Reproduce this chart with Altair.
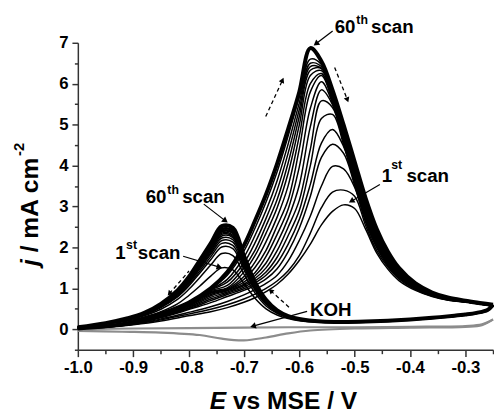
import math
import altair as alt
import pandas as pd

# ---------------- data ----------------
E_fwd = [-1.0, -0.95, -0.9, -0.85, -0.8, -0.76, -0.73, -0.70, -0.68, -0.66, -0.64, -0.62, -0.60,
         -0.58, -0.56, -0.54, -0.52, -0.50, -0.48, -0.46, -0.44, -0.42, -0.39, -0.36, -0.33, -0.30, -0.27, -0.25]
E_rev = [-0.25, -0.26, -0.28, -0.30, -0.32, -0.36, -0.40, -0.44, -0.48, -0.52, -0.56, -0.60, -0.62,
         -0.64, -0.66, -0.68, -0.70, -0.72, -0.74, -0.76, -0.78, -0.80, -0.82, -0.85, -0.88, -0.91, -0.95, -1.0]

fwd_01 = [0.02, 0.05, 0.11, 0.20, 0.33, 0.43, 0.53, 0.66, 0.77, 0.92, 1.10, 1.35, 1.68, 2.08, 2.55, 2.88, 3.04, 2.95, 2.44, 1.86, 1.47, 1.19, 0.95, 0.80, 0.71, 0.66, 0.60, 0.56]
fwd_02 = [0.02, 0.05, 0.12, 0.23, 0.37, 0.49, 0.60, 0.74, 0.86, 1.00, 1.18, 1.43, 1.80, 2.35, 2.97, 3.35, 3.40, 3.25, 2.53, 1.92, 1.52, 1.23, 0.97, 0.81, 0.71, 0.67, 0.61, 0.57]
fwd_03 = [0.02, 0.05, 0.12, 0.25, 0.41, 0.55, 0.68, 0.84, 0.97, 1.12, 1.32, 1.67, 2.17, 2.77, 3.50, 3.98, 3.92, 3.47, 2.61, 1.99, 1.56, 1.26, 0.99, 0.82, 0.72, 0.67, 0.61, 0.57]
fwd_04 = [0.02, 0.06, 0.13, 0.28, 0.48, 0.65, 0.80, 0.95, 1.07, 1.23, 1.48, 1.90, 2.47, 3.25, 4.20, 4.52, 4.30, 3.52, 2.65, 2.02, 1.59, 1.28, 1.00, 0.83, 0.72, 0.67, 0.61, 0.57]
fwd_05 = [0.02, 0.06, 0.14, 0.30, 0.50, 0.70, 0.85, 0.99, 1.13, 1.32, 1.62, 2.08, 2.68, 3.54, 4.55, 4.88, 4.47, 3.56, 2.70, 2.05, 1.61, 1.30, 1.01, 0.83, 0.73, 0.68, 0.62, 0.58]
fwd_06 = [0.02, 0.06, 0.14, 0.31, 0.52, 0.74, 0.88, 1.03, 1.18, 1.40, 1.76, 2.29, 2.90, 4.00, 5.15, 5.25, 4.52, 3.60, 2.74, 2.09, 1.64, 1.31, 1.02, 0.84, 0.73, 0.68, 0.62, 0.58]
fwd_07 = [0.02, 0.06, 0.15, 0.32, 0.54, 0.78, 0.91, 1.07, 1.24, 1.50, 1.92, 2.50, 3.15, 4.40, 5.58, 5.42, 4.56, 3.65, 2.78, 2.12, 1.66, 1.33, 1.03, 0.85, 0.74, 0.68, 0.62, 0.58]
fwd_08 = [0.02, 0.06, 0.15, 0.33, 0.56, 0.82, 0.94, 1.10, 1.31, 1.62, 2.11, 2.71, 3.52, 4.95, 5.85, 5.49, 4.60, 3.70, 2.82, 2.15, 1.68, 1.35, 1.03, 0.85, 0.74, 0.68, 0.62, 0.58]
fwd_09 = [0.02, 0.06, 0.16, 0.34, 0.58, 0.85, 0.96, 1.15, 1.38, 1.78, 2.32, 2.94, 3.96, 5.40, 6.05, 5.53, 4.65, 3.74, 2.86, 2.19, 1.71, 1.36, 1.04, 0.86, 0.74, 0.68, 0.62, 0.58]
fwd_10 = [0.02, 0.07, 0.16, 0.35, 0.59, 0.88, 0.97, 1.22, 1.51, 1.93, 2.53, 3.17, 4.40, 5.80, 6.20, 5.57, 4.69, 3.79, 2.91, 2.22, 1.73, 1.38, 1.05, 0.86, 0.75, 0.69, 0.63, 0.59]
fwd_11 = [0.02, 0.07, 0.17, 0.35, 0.60, 0.90, 0.99, 1.29, 1.64, 2.14, 2.74, 3.51, 4.72, 6.00, 6.25, 5.61, 4.74, 3.83, 2.95, 2.25, 1.76, 1.40, 1.06, 0.87, 0.75, 0.69, 0.63, 0.59]
fwd_12 = [0.02, 0.07, 0.17, 0.36, 0.61, 0.92, 1.01, 1.40, 1.80, 2.35, 2.97, 3.82, 4.99, 6.20, 6.32, 5.65, 4.78, 3.88, 2.99, 2.29, 1.78, 1.42, 1.07, 0.87, 0.75, 0.69, 0.63, 0.59]
fwd_13 = [0.02, 0.07, 0.17, 0.36, 0.62, 0.94, 1.07, 1.51, 1.93, 2.53, 3.17, 4.07, 5.20, 6.33, 6.37, 5.69, 4.82, 3.92, 3.03, 2.32, 1.80, 1.43, 1.08, 0.88, 0.76, 0.69, 0.63, 0.59]
fwd_14 = [0.02, 0.07, 0.17, 0.37, 0.63, 0.96, 1.15, 1.62, 2.11, 2.71, 3.40, 4.31, 5.37, 6.42, 6.38, 5.73, 4.87, 3.97, 3.07, 2.35, 1.83, 1.45, 1.09, 0.88, 0.76, 0.69, 0.63, 0.59]
fwd_15 = [0.02, 0.07, 0.18, 0.37, 0.64, 0.97, 1.22, 1.76, 2.29, 2.90, 3.63, 4.53, 5.53, 6.50, 6.42, 5.77, 4.91, 4.01, 3.12, 2.38, 1.85, 1.47, 1.10, 0.89, 0.76, 0.70, 0.64, 0.60]
fwd_16 = [0.02, 0.07, 0.18, 0.38, 0.64, 0.98, 1.32, 1.91, 2.47, 3.11, 3.85, 4.73, 5.68, 6.60, 6.47, 5.81, 4.96, 4.06, 3.16, 2.42, 1.88, 1.48, 1.11, 0.89, 0.77, 0.70, 0.64, 0.60]
fwd_60 = [0.02, 0.07, 0.18, 0.38, 0.65, 1.00, 1.40, 2.05, 2.65, 3.30, 4.05, 4.90, 5.80, 6.87, 6.55, 5.85, 5.00, 4.10, 3.20, 2.45, 1.90, 1.50, 1.12, 0.90, 0.77, 0.70, 0.64, 0.60]

rev_01 = [0.56, 0.45, 0.38, 0.34, 0.31, 0.26, 0.22, 0.19, 0.17, 0.16, 0.17, 0.21, 0.26, 0.35, 0.50, 0.76, 1.12, 1.45, 1.50, 1.30, 1.05, 0.82, 0.62, 0.43, 0.30, 0.20, 0.12, 0.05]
rev_02 = [0.57, 0.46, 0.39, 0.35, 0.32, 0.27, 0.23, 0.20, 0.18, 0.17, 0.18, 0.22, 0.28, 0.39, 0.57, 0.89, 1.35, 1.80, 1.85, 1.57, 1.26, 0.97, 0.73, 0.49, 0.33, 0.22, 0.13, 0.05]
rev_03 = [0.57, 0.46, 0.39, 0.35, 0.32, 0.27, 0.23, 0.20, 0.18, 0.17, 0.18, 0.23, 0.29, 0.41, 0.61, 0.96, 1.46, 1.97, 2.01, 1.70, 1.37, 1.05, 0.79, 0.53, 0.35, 0.24, 0.14, 0.05]
rev_04 = [0.57, 0.46, 0.39, 0.35, 0.32, 0.27, 0.23, 0.20, 0.18, 0.17, 0.18, 0.23, 0.30, 0.41, 0.63, 0.99, 1.52, 2.05, 2.10, 1.77, 1.42, 1.08, 0.81, 0.54, 0.36, 0.24, 0.14, 0.05]
rev_05 = [0.58, 0.46, 0.39, 0.35, 0.32, 0.27, 0.23, 0.20, 0.18, 0.17, 0.18, 0.24, 0.30, 0.42, 0.65, 1.02, 1.57, 2.13, 2.17, 1.83, 1.47, 1.12, 0.84, 0.56, 0.37, 0.25, 0.14, 0.05]
rev_06 = [0.58, 0.46, 0.39, 0.35, 0.32, 0.27, 0.23, 0.20, 0.18, 0.17, 0.18, 0.24, 0.30, 0.43, 0.66, 1.04, 1.61, 2.19, 2.23, 1.87, 1.50, 1.14, 0.86, 0.57, 0.37, 0.25, 0.14, 0.05]
rev_07 = [0.58, 0.47, 0.40, 0.36, 0.33, 0.28, 0.24, 0.21, 0.19, 0.18, 0.19, 0.24, 0.31, 0.43, 0.67, 1.06, 1.64, 2.24, 2.28, 1.91, 1.53, 1.16, 0.87, 0.58, 0.38, 0.25, 0.14, 0.05]
rev_08 = [0.58, 0.47, 0.40, 0.36, 0.33, 0.28, 0.24, 0.21, 0.19, 0.18, 0.19, 0.24, 0.31, 0.44, 0.68, 1.07, 1.66, 2.27, 2.32, 1.94, 1.55, 1.18, 0.88, 0.58, 0.38, 0.26, 0.14, 0.05]
rev_09 = [0.58, 0.47, 0.40, 0.36, 0.33, 0.28, 0.24, 0.21, 0.19, 0.18, 0.19, 0.24, 0.31, 0.44, 0.68, 1.08, 1.68, 2.30, 2.35, 1.96, 1.57, 1.19, 0.89, 0.59, 0.38, 0.26, 0.14, 0.05]
rev_10 = [0.59, 0.47, 0.40, 0.36, 0.33, 0.28, 0.24, 0.21, 0.19, 0.18, 0.19, 0.24, 0.31, 0.44, 0.69, 1.10, 1.70, 2.34, 2.38, 1.99, 1.59, 1.21, 0.90, 0.59, 0.39, 0.26, 0.15, 0.05]
rev_11 = [0.59, 0.47, 0.40, 0.36, 0.33, 0.28, 0.24, 0.21, 0.19, 0.18, 0.19, 0.24, 0.31, 0.45, 0.69, 1.10, 1.72, 2.35, 2.39, 2.00, 1.60, 1.21, 0.91, 0.60, 0.39, 0.26, 0.15, 0.05]
rev_12 = [0.59, 0.47, 0.40, 0.36, 0.33, 0.28, 0.24, 0.21, 0.19, 0.18, 0.19, 0.25, 0.31, 0.45, 0.70, 1.11, 1.73, 2.37, 2.41, 2.02, 1.61, 1.22, 0.92, 0.60, 0.39, 0.26, 0.15, 0.05]
rev_13 = [0.59, 0.47, 0.40, 0.36, 0.33, 0.28, 0.24, 0.21, 0.19, 0.18, 0.19, 0.25, 0.31, 0.45, 0.70, 1.12, 1.74, 2.39, 2.43, 2.03, 1.63, 1.23, 0.92, 0.60, 0.39, 0.26, 0.15, 0.05]
rev_14 = [0.59, 0.47, 0.40, 0.36, 0.33, 0.28, 0.24, 0.21, 0.19, 0.18, 0.19, 0.25, 0.32, 0.45, 0.70, 1.12, 1.75, 2.40, 2.44, 2.04, 1.63, 1.24, 0.93, 0.61, 0.39, 0.26, 0.15, 0.05]
rev_15 = [0.60, 0.47, 0.40, 0.36, 0.33, 0.28, 0.24, 0.21, 0.19, 0.18, 0.19, 0.25, 0.32, 0.45, 0.71, 1.12, 1.76, 2.41, 2.45, 2.05, 1.64, 1.24, 0.93, 0.61, 0.39, 0.27, 0.15, 0.05]
rev_16 = [0.60, 0.47, 0.40, 0.36, 0.33, 0.28, 0.24, 0.21, 0.19, 0.18, 0.19, 0.25, 0.32, 0.45, 0.71, 1.13, 1.76, 2.42, 2.46, 2.05, 1.64, 1.24, 0.93, 0.61, 0.39, 0.27, 0.15, 0.05]
rev_60 = [0.60, 0.47, 0.40, 0.36, 0.33, 0.28, 0.24, 0.21, 0.19, 0.18, 0.19, 0.25, 0.32, 0.46, 0.72, 1.15, 1.80, 2.48, 2.52, 2.10, 1.68, 1.27, 0.95, 0.62, 0.40, 0.27, 0.15, 0.05]

koh_E_fwd = [-1.0, -0.9, -0.8, -0.7, -0.6, -0.5, -0.4, -0.3, -0.27, -0.25]
koh_fwd = [0.0, 0.02, 0.03, 0.04, 0.05, 0.05, 0.06, 0.08, 0.12, 0.24]
koh_E_rev = [-0.25, -0.27, -0.30, -0.40, -0.50, -0.58, -0.62, -0.66, -0.70, -0.74, -0.78, -0.85, -0.92, -1.0]
koh_rev = [0.24, 0.10, 0.06, 0.04, 0.02, -0.03, -0.10, -0.20, -0.27, -0.23, -0.14, -0.08, -0.06, -0.04]

scan_ids = ["01", "02", "03", "04", "05", "06", "07", "08", "09", "10", "11", "12", "13", "14", "15", "16", "60"]
fwd_sets = [fwd_01, fwd_02, fwd_03, fwd_04, fwd_05, fwd_06, fwd_07, fwd_08, fwd_09, fwd_10,
            fwd_11, fwd_12, fwd_13, fwd_14, fwd_15, fwd_16, fwd_60]
rev_sets = [rev_01, rev_02, rev_03, rev_04, rev_05, rev_06, rev_07, rev_08, rev_09, rev_10,
            rev_11, rev_12, rev_13, rev_14, rev_15, rev_16, rev_60]

# annotation texts (positions in data units: E, j)
label_text = ["60", "th", "scan", "1", "st", "scan", "60", "th", "scan", "1", "st", "scan", "KOH"]
label_E = [-0.5361, -0.4970, -0.4704, -0.4508, -0.4340, -0.4064, -0.8774, -0.8383, -0.8116, -0.9325, -0.9129, -0.8916, -0.5806]
label_j = [7.24, 7.457, 7.24, 3.587, 3.923, 3.587, 3.082, 3.298, 3.082, 1.712, 1.952, 1.712, 0.317]
label_size = [19, 12.5, 19, 19, 12.5, 19, 19, 12.5, 19, 19, 12.5, 19, 19]

# pointer arrows (solid) and scan-direction arrows (dashed): start -> end
ptr_E0 = [-0.5397, -0.4544, -0.7725, -0.8098, -0.5859]
ptr_j0 = [7.29, 3.538, 3.058, 1.784, 0.438]
ptr_E1 = [-0.5699, -0.5059, -0.7334, -0.7441, -0.6837]
ptr_j1 = [6.976, 3.13, 2.649, 1.519, 0.077]
dash_E0 = [-0.6606, -0.5361, -0.7992, -0.6161]
dash_j0 = [5.197, 6.399, 1.423, 0.51]
dash_E1 = [-0.6303, -0.5130, -0.8347, -0.6517]
dash_j1 = [6.087, 5.606, 0.87, 0.942]

x_ticks = [-1.0, -0.95, -0.9, -0.85, -0.8, -0.75, -0.7, -0.65, -0.6, -0.55, -0.5, -0.45, -0.4, -0.35, -0.3, -0.25]
y_ticks = [-0.5, 0, 0.5, 1, 1.5, 2, 2.5, 3, 3.5, 4, 4.5, 5, 5.5, 6, 6.5, 7]

# ---------------- layout / style ----------------
W, H = 422, 312
XD = [-1.0, -0.25]
YD = [-0.5, 7.0]
FONT = "Liberation Sans"
AX = "#333333"

rows = []
for sid, fv, rv in zip(scan_ids, fwd_sets, rev_sets):
    for e, v in zip(E_fwd, fv):
        rows.append({"E": e, "j": v, "curve": "f" + sid, "scan": sid})
    for e, v in zip(E_rev, rv):
        rows.append({"E": e, "j": v, "curve": "r" + sid, "scan": sid})
scans = pd.DataFrame(rows)
thin = scans[scans["scan"] != "60"]
thick = scans[scans["scan"] == "60"]

koh = pd.DataFrame(
    [{"E": e, "j": v, "curve": "kf"} for e, v in zip(koh_E_fwd, koh_fwd)]
    + [{"E": e, "j": v, "curve": "kr"} for e, v in zip(koh_E_rev, koh_rev)]
)

labels = pd.DataFrame({"E": label_E, "j": label_j, "txt": label_text, "fs": label_size})


def head_angle(e0, j0, e1, j1):
    dx = (e1 - e0) / (XD[1] - XD[0]) * W
    dy = -(j1 - j0) / (YD[1] - YD[0]) * H
    return math.degrees(math.atan2(dx, -dy)) % 360


def arrow_frames(E0, J0, E1, J1):
    seg, heads = [], []
    for i, (a, b, c, d) in enumerate(zip(E0, J0, E1, J1)):
        seg.append({"E": a, "j": b, "id": i})
        seg.append({"E": c, "j": d, "id": i})
        heads.append({"E": c, "j": d, "ang": head_angle(a, b, c, d)})
    return pd.DataFrame(seg), pd.DataFrame(heads)


ptr_seg, ptr_head = arrow_frames(ptr_E0, ptr_j0, ptr_E1, ptr_j1)
dash_seg, dash_head = arrow_frames(dash_E0, dash_j0, dash_E1, dash_j1)

xcond = "abs(datum.value * 10 - round(datum.value * 10)) < 0.01"
ycond = "datum.value % 1 == 0"

x_axis = alt.Axis(
    values=x_ticks, format=".1f",
    labelExpr=xcond + " ? replace(datum.label, '\u2212', '-') : ''",
    title=None, grid=False, domainColor=AX, domainWidth=1.5, tickColor=AX, tickWidth=1.5,
    tickSize={"condition": {"test": xcond, "value": 7}, "value": 4},
    labelFont=FONT, labelFontSize=17, labelFontWeight="bold", labelColor="black",
    labelPadding=3, labelFlush=False, labelOverlap=False,
)
y_axis = alt.Axis(
    values=y_ticks, format=".0f",
    labelExpr=ycond + " ? datum.label : ''",
    title=None, grid=False, domainColor=AX, domainWidth=1.5, tickColor=AX, tickWidth=1.5,
    tickSize={"condition": {"test": ycond, "value": 6}, "value": 3.5},
    labelFont=FONT, labelFontSize=17, labelFontWeight="bold", labelColor="black",
    labelPadding=4, labelOverlap=False,
)

xs = alt.Scale(domain=XD, nice=False, zero=False)
ys = alt.Scale(domain=YD, nice=False, zero=False)
X = alt.X("E:Q", scale=xs, axis=x_axis)
Y = alt.Y("j:Q", scale=ys, axis=y_axis)

thin_lines = alt.Chart(thin).mark_line(color="black", strokeWidth=1.5, interpolate="catmull-rom").encode(
    x=X, y=Y, detail="curve:N")
thick_lines = alt.Chart(thick).mark_line(color="black", strokeWidth=4, interpolate="catmull-rom").encode(
    x=X, y=Y, detail="curve:N")
koh_lines = alt.Chart(koh).mark_line(color="#8c8c8c", strokeWidth=2.2, interpolate="catmull-rom").encode(
    x=X, y=Y, detail="curve:N")

ptr_lines = alt.Chart(ptr_seg).mark_line(color="black", strokeWidth=1.2).encode(x=X, y=Y, detail="id:N")
ptr_heads = alt.Chart(ptr_head).mark_point(shape="triangle-up", filled=True, color="black", size=45, opacity=1).encode(
    x=X, y=Y, angle=alt.Angle("ang:Q", scale=None))
dash_lines = alt.Chart(dash_seg).mark_line(color="black", strokeWidth=1.3, strokeDash=[4, 3]).encode(
    x=X, y=Y, detail="id:N")
dash_heads = alt.Chart(dash_head).mark_point(shape="triangle-up", filled=True, color="black", size=35, opacity=1).encode(
    x=X, y=Y, angle=alt.Angle("ang:Q", scale=None))

label_marks = alt.Chart(labels).mark_text(
    font=FONT, fontWeight="bold", color="black", align="left", baseline="alphabetic").encode(
    x=X, y=Y, text="txt:N", size=alt.Size("fs:Q", scale=None))

one = pd.DataFrame({"a": [0]})


def title_piece(txt, px, py, size, italic=False, angle=0):
    kw = dict(text=txt, font=FONT, fontWeight="bold", fontSize=size, color="black",
              align="left", baseline="alphabetic", angle=angle)
    if italic:
        kw["fontStyle"] = "italic"
    return alt.Chart(one).mark_text(**kw).encode(x=alt.value(px), y=alt.value(py))


titles = [
    title_piece("j", -40, 227, 25, italic=True, angle=270),
    title_piece("/ mA cm", -40, 213, 25, angle=270),
    title_piece("-2", -55, 115, 15, angle=270),
    title_piece("E", 134, 372, 25, italic=True),
    title_piece("vs MSE / V", 157.6, 372, 25),
]

chart = alt.layer(
    koh_lines, thin_lines, thick_lines, ptr_lines, ptr_heads, dash_lines, dash_heads, label_marks, *titles
).properties(
    width=W, height=H,
    autosize=alt.AutoSizeParams(type="none"),
    padding={"left": 71, "top": 32, "right": 1, "bottom": 65},
).configure_view(stroke=None)

chart.save("out.html", embed_options={"renderer": "svg", "actions": False})
